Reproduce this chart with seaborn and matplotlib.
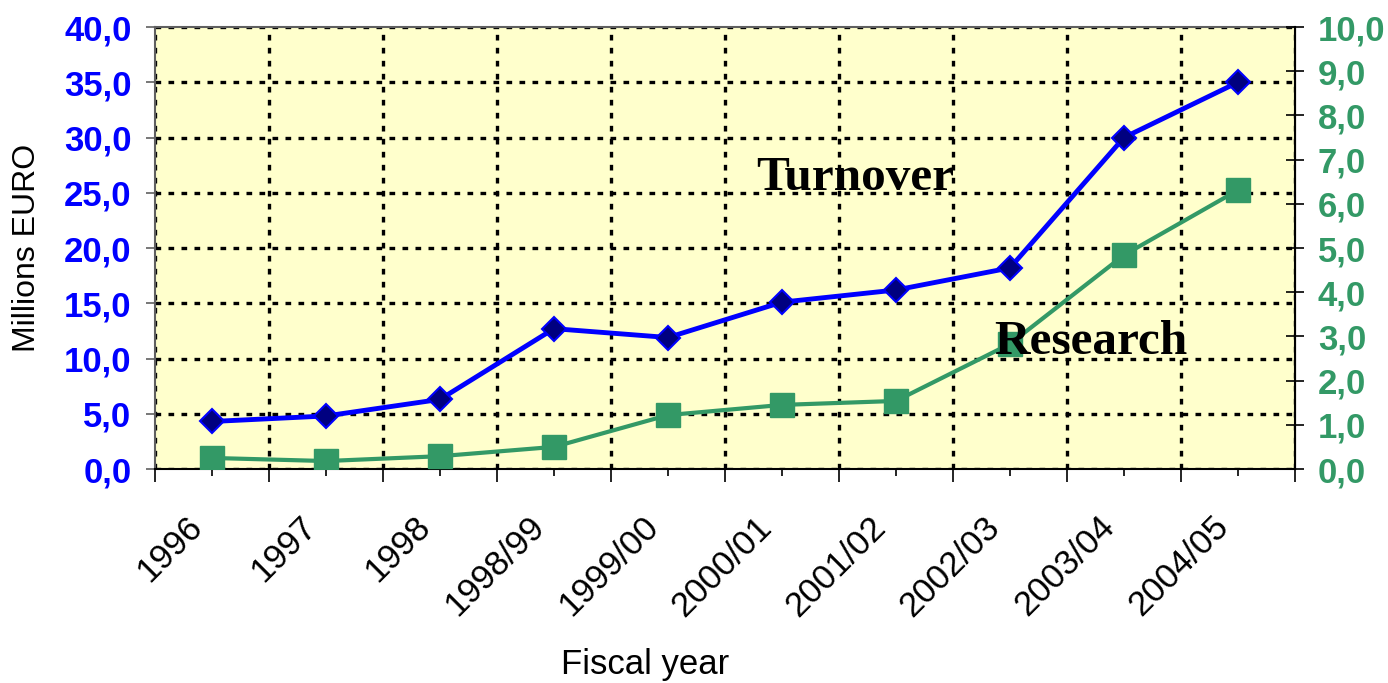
import numpy as np
import pandas as pd
import matplotlib
matplotlib.use("Agg")
import matplotlib.pyplot as plt
import matplotlib.transforms as mtransforms
import seaborn as sns

categories = ["1996", "1997", "1998", "1998/99", "1999/00", "2000/01",
              "2001/02", "2002/03", "2003/04", "2004/05"]
turnover = [4.3, 4.8, 6.3, 12.7, 11.9, 15.1, 16.2, 18.2, 30.0, 35.0]
research = [0.25, 0.18, 0.29, 0.50, 1.22, 1.45, 1.54, 2.83, 4.84, 6.31]
left_ticks = [0, 5, 10, 15, 20, 25, 30, 35, 40]
right_ticks = [0, 1, 2, 3, 4, 5, 6, 7, 8, 9, 10]

BLUE = "#0000FF"
NAVY = "#000080"
GREEN = "#339966"
BG = "#FFFFCC"

pos = np.arange(len(categories))
df = pd.DataFrame({"pos": pos, "turnover": turnover, "research": research})

fig = plt.figure(figsize=(13.88, 6.83), dpi=100)
ax = fig.add_axes([155 / 1388, 1 - 469 / 683, 1140 / 1388, 442 / 683])
ax.set_facecolor(BG)

sns.lineplot(data=df, x="pos", y="turnover", ax=ax, color=BLUE, linewidth=3.5,
             marker="D", markersize=12.5, markerfacecolor=NAVY,
             markeredgecolor=BLUE, markeredgewidth=1.5, zorder=5)

ax.set_xlim(-0.5, len(categories) - 0.5)
ax.set_ylim(0, 40)

dash = (0, (1.7, 2.2))
ax.set_yticks(left_ticks)
ax.set_yticklabels([f"{v:.1f}".replace(".", ",") for v in left_ticks],
                   color=BLUE, fontweight="bold", fontsize=25, family="Liberation Sans")
ax.tick_params(axis="y", direction="out", length=6.5, width=1.2, color="#606060", pad=10.5)
ax.grid(axis="y", color="black", linestyle=dash, linewidth=2.4)

ax.set_xticks(np.arange(-0.5, len(categories), 1))
ax.set_xticklabels([])
ax.set_xticks(pos, minor=True)
ax.set_xticklabels(categories, minor=True, rotation=45, ha="right", va="center",
                   rotation_mode="anchor", fontsize=25, family="Liberation Sans")
ax.tick_params(axis="x", which="major", length=9, width=1.2, color="black")
ax.tick_params(axis="x", which="minor", length=5, width=1.2, color="black", pad=33)
ax.grid(axis="x", which="major", color="black", linestyle=dash, linewidth=2.4)
ax.set_axisbelow(True)

shift = mtransforms.ScaledTranslation(-15 / 100, 0, fig.dpi_scale_trans)
for t in ax.xaxis.get_minor_ticks():
    t.label1.set_transform(t.label1.get_transform() + shift)

ax.set_ylabel("Millions EURO", fontsize=23, family="Liberation Sans")
ax.yaxis.set_label_coords(-0.099, 0.5)
ax.set_xlabel("Fiscal year", fontsize=25, family="Liberation Sans")
ax.xaxis.set_label_coords(0.43, -0.406)

for s in ["left", "top"]:
    ax.spines[s].set_color("#606060")
    ax.spines[s].set_linewidth(1.5)
ax.spines["bottom"].set_color("black")
ax.spines["bottom"].set_linewidth(1.5)

ax2 = ax.twinx()
sns.lineplot(data=df, x="pos", y="research", ax=ax2, color=GREEN, linewidth=3,
             marker="s", markersize=17, markerfacecolor=GREEN,
             markeredgecolor=GREEN, markeredgewidth=1, zorder=5)
ax2.set_ylim(0, 10)
ax2.set_yticks(right_ticks)
ax2.set_yticklabels([f"{v:.1f}".replace(".", ",") for v in right_ticks],
                    color=GREEN, fontweight="bold", fontsize=25, family="Liberation Sans")
ax2.tick_params(axis="y", direction="inout", length=13, width=1.2, color="black", pad=10)
ax2.set_ylabel("")
ax2.spines["right"].set_color("black")
ax2.spines["right"].set_linewidth(1.5)
for s in ["left", "top", "bottom"]:
    ax2.spines[s].set_visible(False)

ax2.text(5.64, 6.31, "Turnover", fontsize=35.5, fontweight="bold",
         family="Liberation Serif", ha="center", va="baseline", zorder=10)
ax2.text(7.71, 2.6, "Research", fontsize=35.5, fontweight="bold",
         family="Liberation Serif", ha="center", va="baseline", zorder=10)

fig.savefig("out.png", dpi=100)
